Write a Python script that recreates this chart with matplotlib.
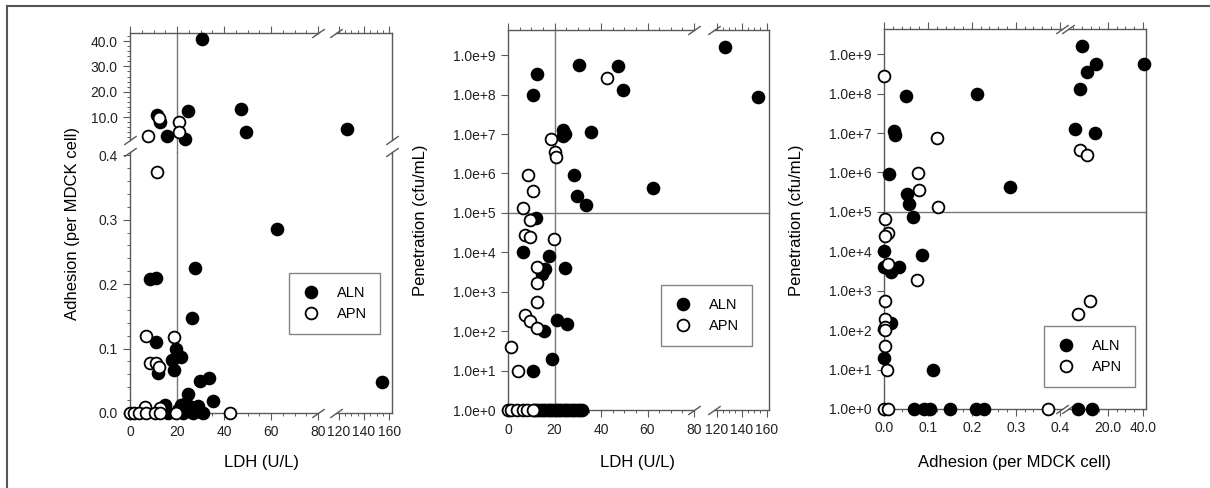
import numpy as np
import matplotlib
matplotlib.use("Agg")
import matplotlib.pyplot as plt
from matplotlib.ticker import FixedLocator, MultipleLocator, FuncFormatter, NullLocator
from matplotlib.lines import Line2D

plt.rcParams['font.family'] = ['Liberation Sans', 'DejaVu Sans']

W, H = 1210, 488

# ---- panel 1: LDH vs adhesion ----
p1_aln_ldh = [11.5, 12.8, 15.7, 23.4, 24.7, 30.6, 47.2, 49.4, 126.6,
              62.5, 8.5, 11.0, 27.7, 26.5, 11.0, 19.6, 17.9, 21.7, 18.7, 11.9,
              29.8, 33.6, 35.3, 24.7, 14.9, 154.0,
              20.5, 21.5, 22.5, 23.0, 24.0, 25.0, 26.0, 27.0, 28.0, 29.0, 30.0, 31.0, 16.0]
p1_aln_adh = [10.8, 8.0, 2.5, 1.2, 12.4, 40.8, 13.2, 4.1, 5.3,
              0.285, 0.208, 0.21, 0.225, 0.147, 0.11, 0.1, 0.083, 0.087, 0.066, 0.062,
              0.05, 0.055, 0.019, 0.03, 0.012, 0.048,
              0.005, 0.012, 0.0, 0.008, 0.015, 0.003, 0.01, 0.0, 0.006, 0.011, 0.002, 0.0, 0.0]
p1_apn_ldh = [7.7, 12.3, 20.9, 20.9,
              11.5, 6.8, 18.7, 8.5, 11.0, 12.3, 6.4, 12.8,
              0.0, 1.5, 3.8, 6.8, 10.6, 12.8, 19.6, 42.5]
p1_apn_adh = [2.5, 9.6, 8.0, 4.1,
              0.374, 0.12, 0.118, 0.077, 0.078, 0.072, 0.009, 0.008,
              0.0, 0.0, 0.0, 0.0, 0.0, 0.0, 0.0, 0.0]

# ---- panel 2: LDH vs penetration ----
p2_aln_ldh = [12.3, 10.6, 30.7, 47.5, 49.3, 126.6, 153.0, 23.5, 24.5, 23.8, 35.6,
              28.5, 29.5, 33.5, 62.5, 12.0, 6.6, 17.5, 15.9, 14.5, 24.5, 20.9, 25.5,
              15.6, 18.8, 10.6,
              11, 12, 13, 14, 15, 16, 17, 18, 19, 20, 21, 22, 23, 24, 25, 26, 27, 28,
              29, 30, 31, 32]
p2_aln_pen = [3.3e8, 1e8, 5.6e8, 5.4e8, 1.3e8, 1.6e9, 8.5e7, 1.3e7, 1.0e7, 0.9e7, 1.15e7,
              9e5, 2.7e5, 1.6e5, 4.2e5, 7.3e4, 1e4, 8.2e3, 3.8e3, 2.8e3, 4e3, 190, 150,
              100, 20, 10,
              1, 1, 1, 1, 1, 1, 1, 1, 1, 1, 1, 1, 1, 1, 1, 1, 1, 1, 1, 1, 1, 1]
p2_apn_ldh = [42.4, 18.5, 20.2, 20.5, 8.5, 10.6, 6.6, 9.5, 7.3, 9.5, 19.8, 12.6, 12.3,
              12.6, 7.3, 9.5, 12.3, 1.3, 4.4,
              0.0, 1.5, 3.9, 6.5, 8.0, 10.8]
p2_apn_pen = [2.6e8, 7.4e6, 3.6e6, 2.6e6, 9e5, 3.5e5, 1.3e5, 6.6e4, 2.7e4, 2.4e4, 2.2e4,
              4.3e3, 1.7e3, 540, 250, 180, 118, 40, 10,
              1, 1, 1, 1, 1, 1]

# ---- panel 3: adhesion vs penetration ----
p3_aln_adh = [0.05, 0.023, 0.025, 0.012, 0.212, 0.052, 0.057, 0.067, 0.286, 0.0, 0.0,
              0.017, 0.034, 0.086, 0.015, 0.0, 0.0, 0.112,
              0.069, 0.09, 0.105, 0.15, 0.209, 0.228,
              1.2, 4.1, 5.3, 8.0, 12.4, 13.2, 40.8, 2.5, 10.8]
p3_aln_pen = [8.7e7, 1.15e7, 9e6, 9.4e5, 1e8, 2.8e5, 1.6e5, 7.3e4, 4.2e5, 1e4, 4e3,
              3e3, 4e3, 8.3e3, 150, 105, 20, 10,
              1, 1, 1, 1, 1, 1,
              1.3e7, 1.35e8, 1.6e9, 3.5e8, 1e7, 5.6e8, 5.7e8, 1, 1]
p3_apn_adh = [0.0, 0.12, 0.078, 0.08, 0.124, 0.002, 0.008, 0.002, 0.01, 0.074, 0.002,
              0.002, 0.002, 0.002, 0.002, 0.006, 0.0, 0.01, 0.374,
              2.5, 4.1, 8.0, 9.6]
p3_apn_pen = [2.8e8, 7.6e6, 9.5e5, 3.6e5, 1.3e5, 6.6e4, 2.9e4, 2.4e4, 4.8e3, 1.9e3, 540,
              190, 120, 100, 40, 10, 1, 1, 1,
              250, 3.7e6, 2.7e6, 550]

SPINE = '#5a5a5a'
REF = '#777777'
MS = 8.5


def box(x0, y0, x1, y1):
    return fig.add_axes([x0 / W, 1 - y1 / H, (x1 - x0) / W, (y1 - y0) / H])


def style(ax, left=True, right=False, top=True, bottom=True):
    for side, on in (('left', left), ('right', right), ('top', top), ('bottom', bottom)):
        ax.spines[side].set_visible(on)
        ax.spines[side].set_color(SPINE)
        ax.spines[side].set_linewidth(1.0)
    ax.tick_params(which='both', direction='out', color=SPINE, labelsize=10,
                   labelcolor='#222222', right=False, top=top, bottom=bottom,
                   left=left, labelleft=left, labelbottom=bottom, labeltop=False)
    ax.tick_params(which='major', length=5, width=0.8, pad=4)
    ax.tick_params(which='minor', length=2.5, width=0.7)
    ax.patch.set_alpha(0)


def pts(ax, xs, ys, xr, yr, filled):
    xs = np.asarray(xs, float)
    ys = np.asarray(ys, float)
    m = (xs >= xr[0]) & (xs <= xr[1]) & (ys >= yr[0]) & (ys <= yr[1])
    ax.plot(xs[m], ys[m], 'o', ms=MS, mew=1.3, mec='black',
            mfc='black' if filled else 'white', clip_on=False, zorder=5)


def brk(ax, x, y):
    ax.plot([x], [y], transform=ax.transAxes, marker=[(-1, -0.7), (1, 0.7)],
            markersize=9, linestyle='none', color=SPINE, mec=SPINE, mew=1,
            clip_on=False)


def legend_at(x, y):
    h = [Line2D([], [], ls='none', marker='o', ms=MS, mfc='black', mec='black', mew=1.3),
         Line2D([], [], ls='none', marker='o', ms=MS, mfc='white', mec='black', mew=1.3)]
    lg = fig.legend(h, ['ALN', 'APN'], loc='upper left',
                    bbox_to_anchor=(x / W, 1 - y / H), frameon=True, fancybox=False,
                    fontsize=10.5, borderpad=0.9, handletextpad=1.2, labelspacing=0.45,
                    handlelength=1.2, borderaxespad=0)
    lg.get_frame().set_edgecolor('#666666')
    lg.get_frame().set_linewidth(1.0)


fmt_log = FuncFormatter(lambda v, p: '1.0e+%d' % round(np.log10(v)))

fig = plt.figure(figsize=(W / 100, H / 100), dpi=100)

# ================= panel 1 =================
ldh_l, ldh_r = (0, 80), (118, 162)
adh_u, adh_d = (0.92, 43.2), (0, 0.405)
a_ul = box(130, 33, 318, 140)
a_ur = box(336, 33, 392, 140)
a_dl = box(130, 152, 318, 413)
a_dr = box(336, 152, 392, 413)

for ax, xl, yl in ((a_ul, ldh_l, adh_u), (a_ur, ldh_r, adh_u),
                   (a_dl, ldh_l, adh_d), (a_dr, ldh_r, adh_d)):
    ax.set_xlim(*xl)
    ax.set_ylim(*yl)
    pts(ax, p1_aln_ldh, p1_aln_adh, xl, yl, True)
    pts(ax, p1_apn_ldh, p1_apn_adh, xl, yl, False)

style(a_ul, left=True, top=True, bottom=False)
style(a_ur, left=False, right=True, top=True, bottom=False)
style(a_dl, left=True, top=False, bottom=True)
style(a_dr, left=False, right=True, top=False, bottom=True)

for ax in (a_ul, a_dl):
    ax.xaxis.set_major_locator(FixedLocator([0, 20, 40, 60, 80]))
    ax.xaxis.set_minor_locator(MultipleLocator(5))
for ax in (a_ur, a_dr):
    ax.xaxis.set_major_locator(FixedLocator([120, 140, 160]))
    ax.xaxis.set_minor_locator(MultipleLocator(5))
for ax in (a_ul, a_ur):
    ax.yaxis.set_major_locator(FixedLocator([10, 20, 30, 40]))
    ax.yaxis.set_minor_locator(MultipleLocator(2))
    ax.yaxis.set_major_formatter(FuncFormatter(lambda v, p: '%.1f' % v))
for ax in (a_dl, a_dr):
    ax.yaxis.set_major_locator(FixedLocator([0, 0.1, 0.2, 0.3, 0.4]))
    ax.yaxis.set_minor_locator(MultipleLocator(0.02))
    ax.yaxis.set_major_formatter(FuncFormatter(lambda v, p: '%.1f' % v))
a_dl.xaxis.set_major_formatter(FuncFormatter(lambda v, p: '%d' % v))
a_dr.xaxis.set_major_formatter(FuncFormatter(lambda v, p: '%d' % v))

for ax in (a_ul, a_dl):
    ax.axvline(20, color=REF, lw=1.0, zorder=1)
a_dl.plot([20, 20], [adh_d[1], adh_d[1] * 1.05], color=REF, lw=1.0, clip_on=False)

brk(a_ul, 1, 1); brk(a_dl, 1, 0); brk(a_ur, 0, 1); brk(a_dr, 0, 0)
brk(a_ul, 0, 0); brk(a_dl, 0, 1); brk(a_ur, 1, 0); brk(a_dr, 1, 1)

fig.text(72 / W, 1 - 223 / H, 'Adhesion (per MDCK cell)', rotation=90,
         ha='center', va='center', fontsize=12)
fig.text(261 / W, 1 - 463 / H, 'LDH (U/L)', ha='center', va='center', fontsize=12)
legend_at(289, 273)

# ================= panel 2 and 3 =================
pen_lim = (1, 10 ** 9.64)


def log_pair(xl_box, xr_box, xl, xr, y0, y1):
    al = box(xl_box[0], y0, xl_box[1], y1)
    ar = box(xr_box[0], y0, xr_box[1], y1)
    for ax, xlim in ((al, xl), (ar, xr)):
        ax.set_yscale('log')
        ax.set_xlim(*xlim)
        ax.set_ylim(*pen_lim)
        ax.yaxis.set_major_locator(FixedLocator([10.0 ** k for k in range(10)]))
        ax.yaxis.set_minor_locator(NullLocator())
        ax.yaxis.set_major_formatter(fmt_log)
    # horizontal reference line at 1e5, running through the x break
    span = (xr_box[1] - xl_box[0]) / (xl_box[1] - xl_box[0])
    al.plot([0, span], [1e5, 1e5], transform=al.get_yaxis_transform(),
            color=REF, lw=1.0, zorder=1, clip_on=False)
    style(al, left=True, top=True, bottom=True)
    style(ar, left=False, right=True, top=True, bottom=True)
    brk(al, 1, 1); brk(al, 1, 0); brk(ar, 0, 1); brk(ar, 0, 0)
    return al, ar


b_l, b_r = log_pair((508, 694), (714, 769), ldh_l, ldh_r, 30, 410)
for ax, xl in ((b_l, ldh_l), (b_r, ldh_r)):
    pts(ax, p2_aln_ldh, p2_aln_pen, xl, pen_lim, True)
    pts(ax, p2_apn_ldh, p2_apn_pen, xl, pen_lim, False)
b_l.xaxis.set_major_locator(FixedLocator([0, 20, 40, 60, 80]))
b_r.xaxis.set_major_locator(FixedLocator([120, 140, 160]))
for ax in (b_l, b_r):
    ax.xaxis.set_minor_locator(MultipleLocator(5))
    ax.xaxis.set_major_formatter(FuncFormatter(lambda v, p: '%d' % v))
b_l.axvline(20, color=REF, lw=1.0, zorder=1)
fig.text(421 / W, 1 - 220 / H, 'Penetration (cfu/mL)', rotation=90,
         ha='center', va='center', fontsize=12)
fig.text(638 / W, 1 - 463 / H, 'LDH (U/L)', ha='center', va='center', fontsize=12)
legend_at(661, 285)

adh_l, adh_r = (0, 0.405), (-3.0, 41.8)
c_l, c_r = log_pair((884, 1062), (1068, 1146), adh_l, adh_r, 29, 409)
pts(c_l, p3_aln_adh, p3_aln_pen, adh_l, pen_lim, True)
pts(c_l, p3_apn_adh, p3_apn_pen, adh_l, pen_lim, False)
pts(c_r, p3_aln_adh, p3_aln_pen, (0.5, adh_r[1]), pen_lim, True)
pts(c_r, p3_apn_adh, p3_apn_pen, (0.5, adh_r[1]), pen_lim, False)
c_l.xaxis.set_major_locator(FixedLocator([0, 0.1, 0.2, 0.3, 0.4]))
c_l.xaxis.set_minor_locator(MultipleLocator(0.02))
c_r.xaxis.set_major_locator(FixedLocator([20, 40]))
c_r.xaxis.set_minor_locator(MultipleLocator(5))
for ax in (c_l, c_r):
    ax.xaxis.set_major_formatter(FuncFormatter(lambda v, p: '%.1f' % v))
fig.text(797 / W, 1 - 220 / H, 'Penetration (cfu/mL)', rotation=90,
         ha='center', va='center', fontsize=12)
fig.text(1015 / W, 1 - 463 / H, 'Adhesion (per MDCK cell)', ha='center',
         va='center', fontsize=12)
legend_at(1044, 326)

# outer frame (top and left edges visible)
fig.add_artist(Line2D([7 / W, 1], [1 - 6 / H, 1 - 6 / H], color='#555555', lw=1.5))
fig.add_artist(Line2D([7 / W, 7 / W], [0, 1 - 6 / H], color='#555555', lw=1.5))

fig.savefig('out.png', dpi=100)
